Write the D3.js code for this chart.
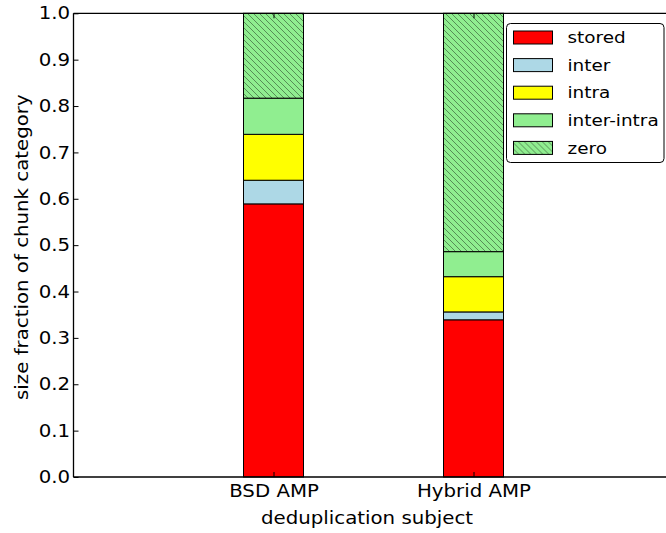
<!DOCTYPE html>
<html lang="en">
<head>
<meta charset="utf-8">
<title>chunk categories</title>
<script src="https://d3js.org/d3.v7.min.js"></script>
<style type="text/css">
  body { margin: 0; background: #fff; }
  text { font-family: "DejaVu Sans", sans-serif; fill: #000; }
  .axis path, .axis line { stroke: #000; }
</style>
</head>
<body>
<script type="text/javascript">

// data
var subjects = ["BSD AMP", "Hybrid AMP"];
var categories = ["stored", "inter", "intra", "inter-intra", "zero"];
var bsd    = [0.589, 0.051, 0.099, 0.078, 0.183];
var hybrid = [0.339, 0.017, 0.076, 0.054, 0.514];
var yTicks = [0.0, 0.1, 0.2, 0.3, 0.4, 0.5, 0.6, 0.7, 0.8, 0.9, 1.0];
var colors = ["#ff0000", "#add8e6", "#ffff00", "#90ee90", "#90ee90"];

var w = 666, h = 533;
var margin = {top: 13.3, left: 73.5, bottom: 56};
var innerH = h - margin.top - margin.bottom;
var stretch = 1.13; // text in the picture is a bit wider than DejaVu

var svg = d3.select("body").append("svg")
  .attr("width", w).attr("height", h);

var defs = svg.append("defs");
function hatch(id, size) {
  var p = defs.append("pattern").attr("id", id)
    .attr("patternUnits", "userSpaceOnUse")
    .attr("width", size).attr("height", size);
  p.append("rect").attr("width", size).attr("height", size).attr("fill", "#90ee90");
  p.append("path")
    .attr("d", `M0,0L${size},${size}M${-size/2},${size/2}L${size/2},${size*1.5}M${size/2},${-size/2}L${size*1.5},${size/2}`)
    .attr("stroke", "#000").attr("stroke-opacity", 0.45).attr("stroke-width", 0.9);
}
hatch("hatch", 6);

function fillOf(i) { return i === 4 ? "url(#hatch)" : colors[i]; }

// x is positions 0..3, bars at 1 and 2 (right part is cut off by the picture)
var xScale = d3.scaleLinear().domain([0, 3]).range([margin.left, margin.left + 600]);
var yScale = d3.scaleLinear().domain([0, 1]).range([margin.top + innerH, margin.top]);
var barW = xScale(0.3) - xScale(0);

// stacked bars
var rows = [bsd, hybrid];
rows.forEach(function(vals, j) {
  var base = 0;
  var segs = vals.map(function(v, i) { var s = {i: i, y0: base, y1: base + v}; base += v; return s; });
  svg.append("g").selectAll("rect").data(segs).join("rect")
    .attr("x", xScale(j + 1) - barW / 2)
    .attr("width", barW)
    .attr("y", d => yScale(d.y1))
    .attr("height", d => yScale(d.y0) - yScale(d.y1))
    .attr("fill", d => fillOf(d.i))
    .attr("stroke", "#000").attr("stroke-width", 1);
});

// axes, ticks point inward
var yAxis = d3.axisLeft(yScale).tickValues(yTicks).tickFormat(d3.format(".1f"))
  .tickSize(-5).tickPadding(3);
var gy = svg.append("g").attr("class", "axis")
  .attr("transform", `translate(${margin.left},0)`).call(yAxis);

var xAxis = d3.axisBottom(xScale).tickValues([1, 2]).tickFormat((d, i) => subjects[i])
  .tickSize(-5).tickPadding(8);
var gx = svg.append("g").attr("class", "axis")
  .attr("transform", `translate(0,${yScale(0)})`).call(xAxis);

var xTop = d3.axisTop(xScale).tickValues([1, 2]).tickFormat("").tickSize(-5);
var gt = svg.append("g").attr("class", "axis")
  .attr("transform", `translate(0,${yScale(1)})`).call(xTop);

// plain spines, no end caps
svg.selectAll(".axis path").attr("stroke-width", 1.3).attr("stroke", "#222");
gy.select(".domain").attr("d", `M0,${yScale(0)}V${yScale(1)}`);
gx.select(".domain").attr("d", `M${xScale(0)},0H${xScale(3)}`);
gt.select(".domain").attr("d", `M${xScale(0)},0H${xScale(3)}`);

svg.selectAll(".axis text")
  .attr("font-size", "17.5px")
  .attr("font-family", "DejaVu Sans, sans-serif")
  .attr("transform", `scale(${stretch},1)`);

// axis labels
svg.append("text")
  .attr("transform", `translate(367,${h - 9}) scale(${stretch},1)`)
  .attr("text-anchor", "middle").attr("font-size", "17.5px")
  .text("deduplication subject");

svg.append("text")
  .attr("transform", `translate(28,${yScale(0.5) + 2}) rotate(-90) scale(${stretch},1)`)
  .attr("text-anchor", "middle").attr("font-size", "17.5px")
  .text("size fraction of chunk category");

// legend
var lg = svg.append("g").attr("transform", "translate(506.5,23.5)");
lg.append("rect").attr("width", 157.5).attr("height", 139)
  .attr("rx", 4).attr("fill", "#fff").attr("stroke", "#000").attr("stroke-width", 1);
var item = lg.selectAll("g.item").data(categories).join("g")
  .attr("class", "item")
  .attr("transform", (d, i) => `translate(0,${14 + i * 27.6})`);
item.append("rect")
  .attr("x", 7).attr("y", -6.5).attr("width", 39).attr("height", 13)
  .attr("fill", (d, i) => fillOf(i))
  .attr("stroke", "#000").attr("stroke-width", 1);
item.append("text")
  .attr("transform", `translate(61,0) scale(${stretch},1)`)
  .attr("dy", "0.35em").attr("font-size", "16.3px")
  .text(d => d);

</script>
</body>
</html>
